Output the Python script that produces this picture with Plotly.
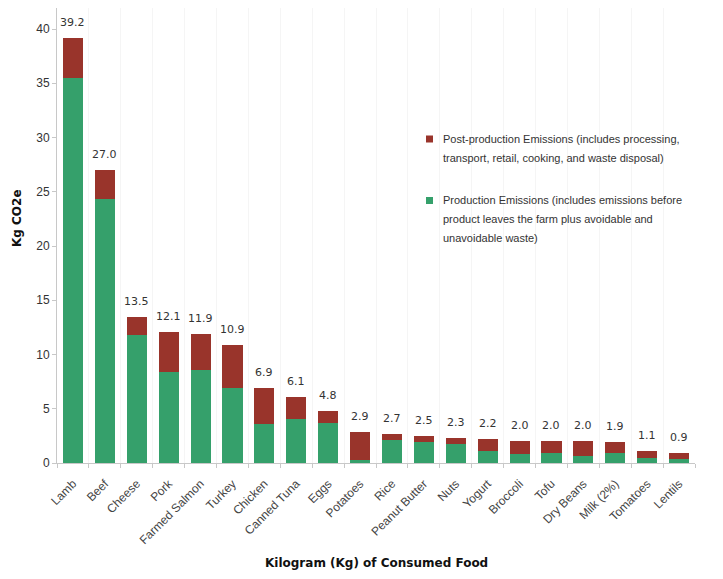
import plotly.graph_objects as go

foods = ["Lamb", "Beef", "Cheese", "Pork", "Farmed Salmon", "Turkey", "Chicken",
         "Canned Tuna", "Eggs", "Potatoes", "Rice", "Peanut Butter", "Nuts", "Yogurt",
         "Broccoli", "Tofu", "Dry Beans", "Milk (2%)", "Tomatoes", "Lentils"]
totals = [39.2, 27.0, 13.5, 12.1, 11.9, 10.9, 6.9, 6.1, 4.8, 2.9, 2.7, 2.5, 2.3,
          2.2, 2.0, 2.0, 2.0, 1.9, 1.1, 0.9]
production = [35.5, 24.3, 11.8, 8.35, 8.6, 6.9, 3.6, 4.1, 3.65, 0.3, 2.15, 1.9, 1.75,
              1.1, 0.8, 0.92, 0.65, 0.9, 0.43, 0.37]
post_production = [round(t - p, 2) for t, p in zip(totals, production)]

GREEN = "#35a06b"
RED = "#99342b"

# page offset (body margin) compensation
OFF = 8
ML, MR, MT = 57 - OFF, 723 - 695 + OFF, 0
PW = 638.0
PH = 463.0 - OFF
MB = 579 - MT - PH

fig = go.Figure()
fig.add_trace(go.Bar(x=foods, y=production, marker=dict(color=GREEN, line=dict(width=0)),
                     name="Production Emissions", showlegend=False))
fig.add_trace(go.Bar(x=foods, y=post_production, marker=dict(color=RED, line=dict(width=0)),
                     name="Post-production Emissions", showlegend=False))


def px(xp):
    return (xp - 57) / PW


def py(yp):
    return 1 - (yp - OFF) / PH


annotations = []
for f, t in zip(foods, totals):
    annotations.append(dict(x=f, y=t, xref="x", yref="y", text=f"{t:.1f}", showarrow=False,
                            yanchor="bottom", yshift=7,
                            font=dict(family="DejaVu Sans", size=11, color="#333")))

# axis titles
annotations.append(dict(xref="paper", yref="paper", x=0, y=py(218), xshift=-40, text="<b>Kg CO2e</b>",
                        textangle=-90, showarrow=False, xanchor="center", yanchor="middle",
                        font=dict(family="DejaVu Sans", size=12, color="#111")))
annotations.append(dict(xref="paper", yref="paper", x=0.5, y=0, yshift=-100,
                        text="<b>Kilogram (Kg) of Consumed Food</b>", showarrow=False,
                        xanchor="center", yanchor="middle",
                        font=dict(family="DejaVu Sans", size=12, color="#111")))

# legend (manual)
legend_lines = [
    (138.5, "Post-production Emissions (includes processing,"),
    (158.5, "transport, retail, cooking, and waste disposal)"),
    (200.0, "Production Emissions (includes emissions before"),
    (219.0, "product leaves the farm plus avoidable and"),
    (238.0, "unavoidable waste)"),
]
for yy, txt in legend_lines:
    annotations.append(dict(xref="paper", yref="paper", x=px(441), y=py(yy), text=txt,
                            showarrow=False, xanchor="left", yanchor="middle",
                            font=dict(family="Liberation Sans", size=11, color="#333")))

shapes = []
for yy, col in [(139, RED), (200.5, GREEN)]:
    shapes.append(dict(type="rect", xref="paper", yref="paper", xsizemode="pixel",
                       ysizemode="pixel", xanchor=px(429.5), yanchor=py(yy),
                       x0=-3.5, x1=3.5, y0=-3.5, y1=3.5, fillcolor=col,
                       line=dict(width=0)))

ytop = 463.0 / 10.85 * (PH / 463.0)

fig.update_layout(
    barmode="stack",
    bargap=0.37,
    width=723, height=579,
    margin=dict(l=ML, r=MR, t=MT, b=MB, autoexpand=False),
    plot_bgcolor="white", paper_bgcolor="white",
    annotations=annotations,
    shapes=shapes,
    xaxis=dict(range=[-0.5, 19.5], tickangle=-45, tickson="boundaries", ticks="outside",
               ticklen=4, tickcolor="#c8c8c8", showline=True, linecolor="#c8c8c8",
               showgrid=True, gridcolor="#f5f5f5", automargin=False, ticklabelstandoff=8,
               tickfont=dict(family="Liberation Sans", size=12, color="#444")),
    yaxis=dict(range=[0, ytop], tickvals=[0, 5, 10, 15, 20, 25, 30, 35, 40], ticks="outside",
               ticklen=4, tickcolor="#c8c8c8", showline=True, linecolor="#c8c8c8",
               showgrid=False, zeroline=False, automargin=False,
               tickfont=dict(family="Liberation Sans", size=12, color="#333")),
)

fig.write_html("out.html")
